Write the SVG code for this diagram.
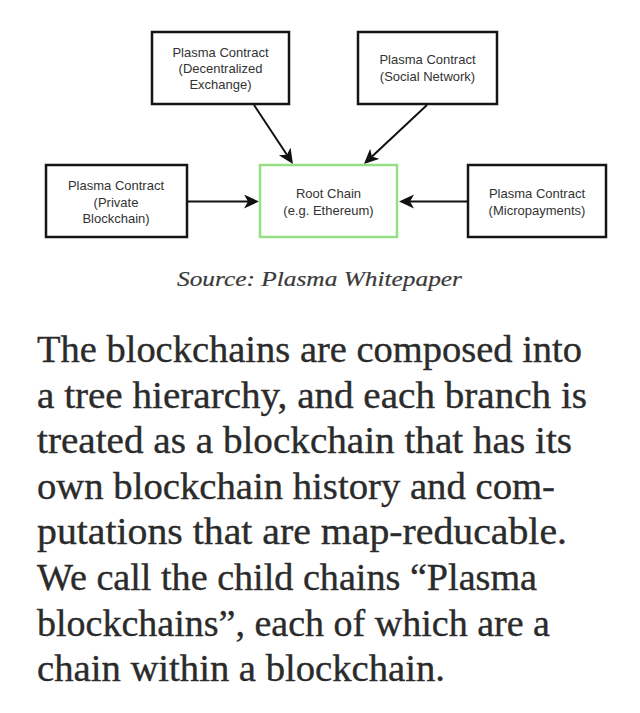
<svg xmlns="http://www.w3.org/2000/svg" width="640" height="713" viewBox="0 0 640 713">
<defs>
<marker id="arr" markerUnits="userSpaceOnUse" markerWidth="17" markerHeight="15" refX="4" refY="7" orient="auto">
<path d="M0,0 L15,7 L0,14 L4,7 Z" fill="#111"/>
</marker>
<style>
.box{fill:#fff;stroke:#151515;stroke-width:2.5}
.root{fill:#fff;stroke:#95e085;stroke-width:2.5}
.lbl{font-family:"Liberation Sans",Arial,sans-serif;font-size:13px;fill:#333;text-anchor:middle}
.edge{stroke:#111;stroke-width:2;fill:none;marker-end:url(#arr)}
.cap{font-family:"Liberation Serif","Times New Roman",serif;font-style:italic;font-size:22px;fill:#3a3a3a;stroke:#3a3a3a;stroke-width:0.2}
.body{font-family:"Liberation Serif","Times New Roman",serif;font-size:37px;fill:#2b2b2b;stroke:#2b2b2b;stroke-width:0.35}
</style>
</defs>
<rect width="640" height="713" fill="#fff"/>
<g id="connectors">
<path class="edge" d="M254,105 L286.9,154.8"/>
<path class="edge" d="M427,105 L372,156.5"/>
<path class="edge" d="M188,201.5 L248,201.5"/>
<path class="edge" d="M467,201.5 L410,201.5"/>
</g>
<g id="dex">
<rect class="box" x="152" y="32" width="137" height="72"/>
<text class="lbl" x="220.5" y="57">Plasma Contract</text>
<text class="lbl" x="220.5" y="73">(Decentralized</text>
<text class="lbl" x="220.5" y="89">Exchange)</text>
</g>
<g id="social">
<rect class="box" x="358" y="32" width="139" height="72"/>
<text class="lbl" x="427.5" y="64">Plasma Contract</text>
<text class="lbl" x="427.5" y="80.5">(Social Network)</text>
</g>
<g id="private">
<rect class="box" x="46" y="165" width="141" height="72"/>
<text class="lbl" x="116" y="190">Plasma Contract</text>
<text class="lbl" x="116" y="206.5">(Private</text>
<text class="lbl" x="116" y="223">Blockchain)</text>
</g>
<g id="root">
<rect class="root" x="260" y="165" width="137" height="72"/>
<text class="lbl" x="328.5" y="197.5">Root Chain</text>
<text class="lbl" x="328.5" y="214.5">(e.g. Ethereum)</text>
</g>
<g id="micro">
<rect class="box" x="468" y="165" width="138" height="72"/>
<text class="lbl" x="537" y="197.5">Plasma Contract</text>
<text class="lbl" x="537" y="214.5">(Micropayments)</text>
</g>
<text class="cap" x="177" y="286" textLength="285" lengthAdjust="spacingAndGlyphs">Source: Plasma Whitepaper</text>
<g id="body-text">
<text class="body" x="37" y="362" textLength="545" lengthAdjust="spacingAndGlyphs">The blockchains are composed into</text>
<text class="body" x="37" y="407.5" textLength="550" lengthAdjust="spacingAndGlyphs">a tree hierarchy, and each branch is</text>
<text class="body" x="37" y="453" textLength="535" lengthAdjust="spacingAndGlyphs">treated as a blockchain that has its</text>
<text class="body" x="37" y="498.7" textLength="518" lengthAdjust="spacingAndGlyphs">own blockchain history and com-</text>
<text class="body" x="37" y="544.4" textLength="530" lengthAdjust="spacingAndGlyphs">putations that are map-reducable.</text>
<text class="body" x="37" y="590" textLength="500" lengthAdjust="spacingAndGlyphs">We call the child chains “Plasma</text>
<text class="body" x="37" y="635.7" textLength="513" lengthAdjust="spacingAndGlyphs">blockchains”, each of which are a</text>
<text class="body" x="37" y="681.4" textLength="408" lengthAdjust="spacingAndGlyphs">chain within a blockchain.</text>
</g>
</svg>
